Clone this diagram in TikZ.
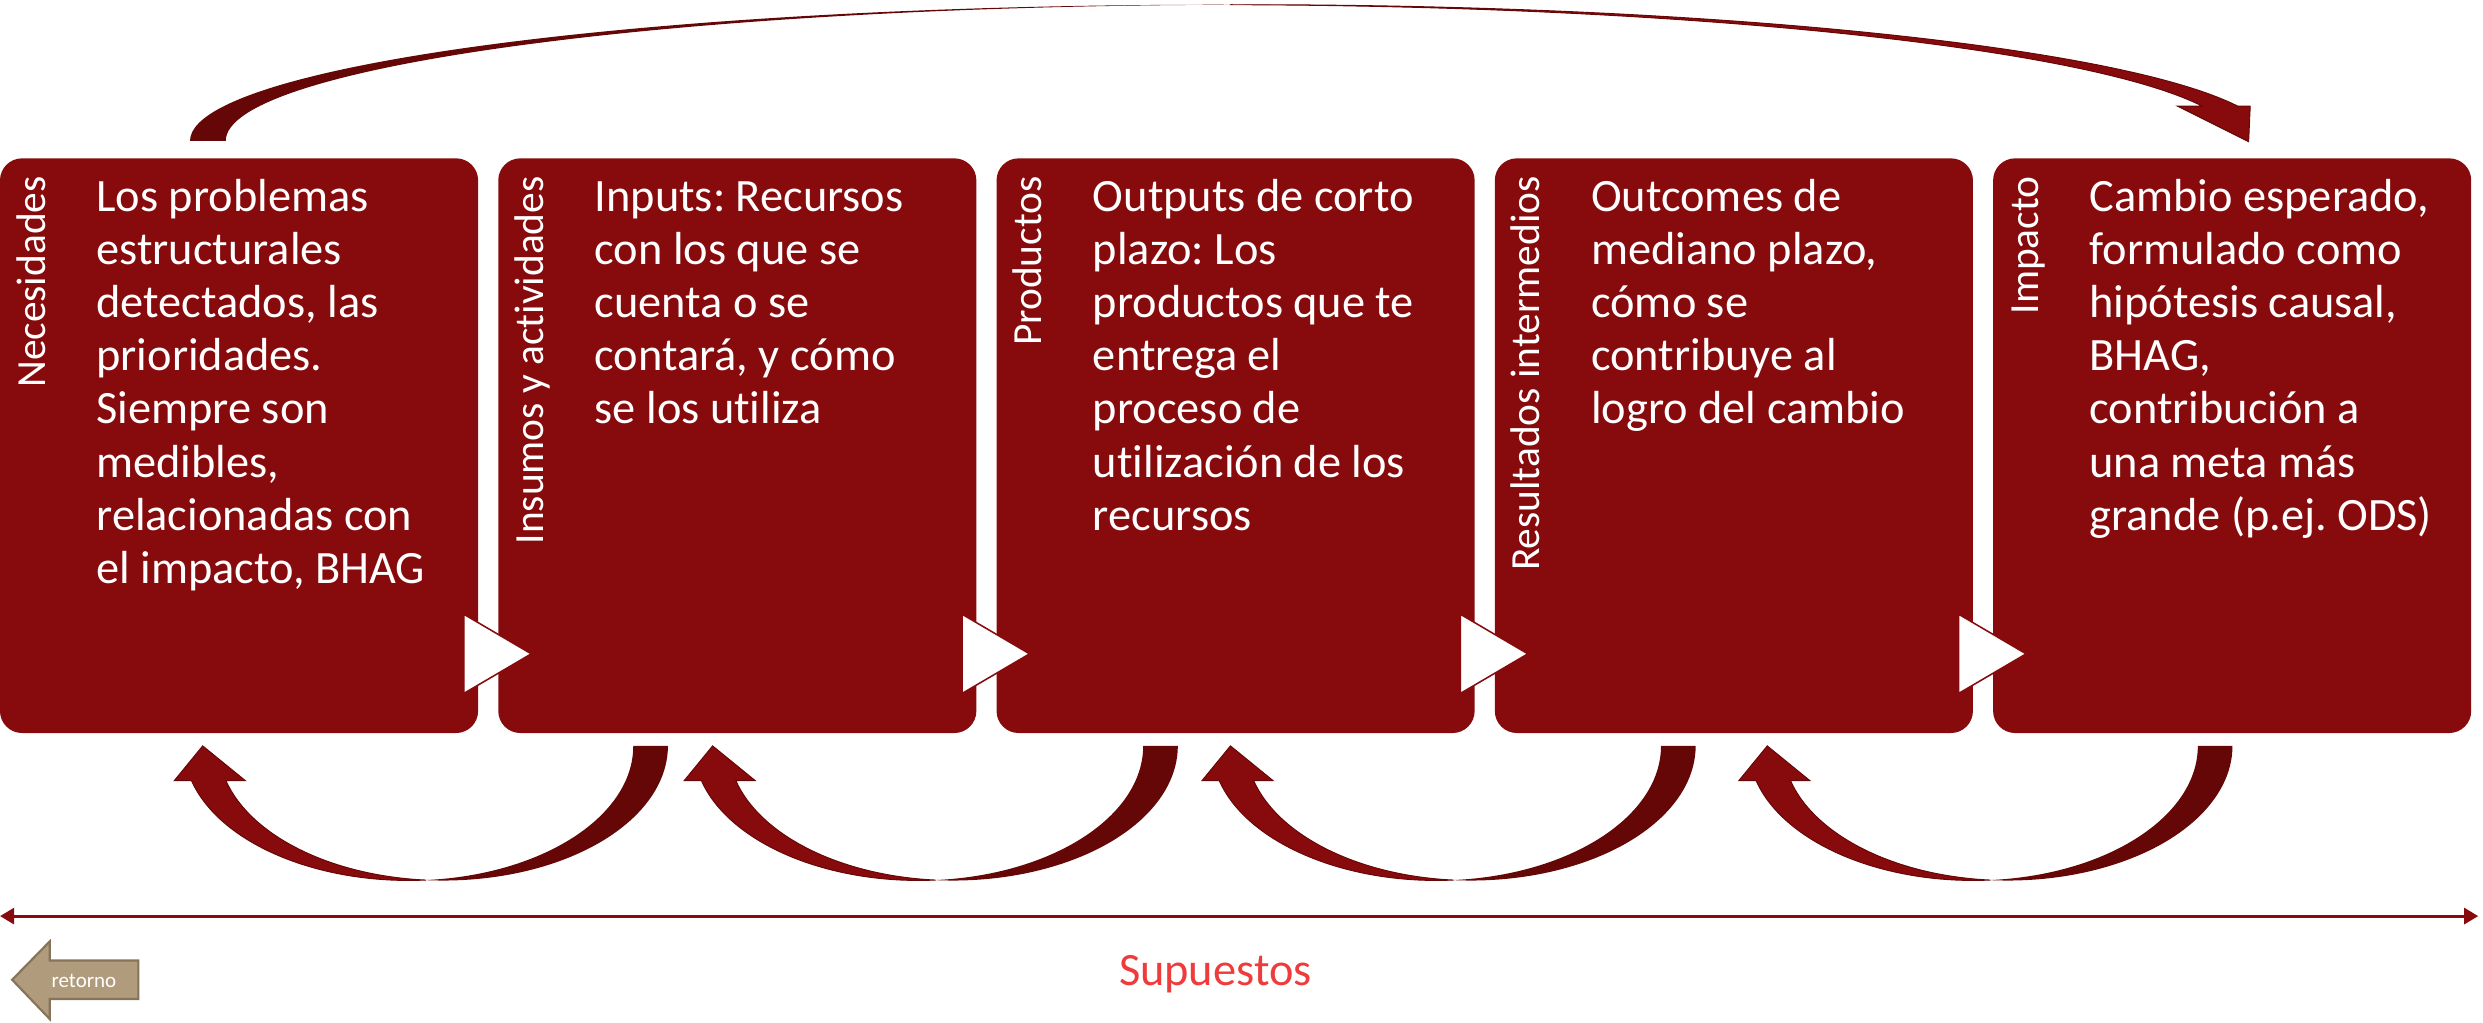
\documentclass[tikz,border=0pt]{standalone}
\usepackage{fontspec}
\setmainfont[Ligatures=NoCommon]{Carlito}
\usetikzlibrary{arrows.meta}
\definecolor{vino}{HTML}{870A0C}
\definecolor{vinoosc}{HTML}{650707}
\definecolor{rojosup}{HTML}{EE3B3B}
\definecolor{arena}{HTML}{B09C7C}
\definecolor{arenaosc}{HTML}{85745A}
\frenchspacing
\begin{document}
\begin{tikzpicture}[x=0.018cm,y=0.018cm,ampersand replacement=\&,
  etapa/.style={fill=vino,rounded corners=0.25cm,minimum width=5.436cm,minimum height=6.534cm,inner sep=0pt,outer sep=0pt},
  cuerpo/.style={text=white,align=left,anchor=north west,inner sep=0pt,font=\fontsize{15pt}{17.2pt}\selectfont},
  rotulo/.style={text=white,rotate=90,anchor=base east,inner sep=0pt,font=\fontsize{13.4pt}{16pt}\selectfont},
  claro/.style={fill=vino,draw=vinoosc,line width=0.3pt},
  oscuro/.style={fill=vinoosc},
  triangulo/.style={fill=white,draw=vino,line width=0.5pt}]
\useasboundingbox (0,0) rectangle (1568,646);
\matrix[column sep=0.2295cm,inner sep=0pt,outer sep=0pt,anchor=north west] at (0,546)
{
  \node[etapa](nec){}; \& \node[etapa](ins){}; \& \node[etapa](pro){}; \& \node[etapa](res){}; \& \node[etapa](imp){}; \\
};
\foreach \n/\t in {nec/Necesidades,ins/Insumos y actividades,pro/Productos,res/Resultados intermedios,imp/Impacto}
  \node[rotulo] (\n-rot) at ([shift={(28.5,-11)}]\n.north west) {\t};
\node[cuerpo] (nec-txt) at ([shift={(60.5,-9.5)}]nec.north west) {\strut Los problemas\\estructurales\\detectados, las\\prioridades.\\Siempre son\\medibles,\\relacionadas con\\el impacto, BHAG};
\node[cuerpo] (ins-txt) at ([shift={(60.5,-9.5)}]ins.north west) {\strut Inputs: Recursos\\con los que se\\cuenta o se\\contará, y cómo\\se los utiliza};
\node[cuerpo] (pro-txt) at ([shift={(60.5,-9.5)}]pro.north west) {\strut Outputs de corto\\plazo: Los\\productos que te\\entrega el\\proceso de\\utilización de los\\recursos};
\node[cuerpo] (res-txt) at ([shift={(60.5,-9.5)}]res.north west) {\strut Outcomes de\\mediano plazo,\\cómo se\\contribuye al\\logro del cambio};
\node[cuerpo] (imp-txt) at ([shift={(60.5,-9.5)}]imp.north west) {\strut Cambio esperado,\\formulado como\\hipótesis causal,\\BHAG,\\contribución a\\una meta más\\grande (p.ej. ODS)};
\foreach \n in {nec,ins,pro,res}
  \draw[triangulo] ([shift={(-9,25)}]\n.south east) -- ([shift={(-9,75)}]\n.south east) -- ([shift={(33.6,50)}]\n.south east) -- cycle;
\foreach \c in {258,580,907,1246}
{
  \begin{scope}[shift={(\c,175)}]
    \fill[oscuro] (11,-84.8) arc[start angle=265.6,end angle=360,x radius=141.9,y radius=85] -- (141.9,0) arc[start angle=0,end angle=-85.6,x radius=141.9,y radius=85] -- cycle;
    \filldraw[claro] (195:141.9 and 85) arc[start angle=195,end angle=274.4,x radius=141.9,y radius=85] arc[start angle=265.6,end angle=195,x radius=141.9,y radius=85] -- (-103,-22) -- (-130,0) -- (-148,-22) -- cycle;
  \end{scope}
}
\fill[oscuro] (120,557) arc[start angle=180,end angle=89,x radius=646,y radius=86] arc[start angle=91,end angle=180,x radius=646,y radius=86] -- cycle;
\filldraw[claro] (777.3,643) arc[start angle=91,end angle=14.8,x radius=646,y radius=86] -- (1421,579) -- (1420,556.5) -- (1375,579) -- (1390.6,579) arc[start angle=14.8,end angle=89,x radius=646,y radius=86] -- cycle;
\coordinate (sup-izq) at (0,67.5);
\coordinate (sup-der) at (1565,67.5);
\draw[vino,line width=1pt,{Triangle[length=0.16cm,width=0.18cm]}-{Triangle[length=0.16cm,width=0.18cm]}] (sup-izq) -- (sup-der);
\node[text=rojosup,font=\fontsize{15pt}{18pt}\selectfont,anchor=base] (sup) at (767.5,23.5) {Supuestos};
\filldraw[fill=arena,draw=arenaosc,line width=0.7pt] (87.4,39.5) -- (31.4,39.5) -- (31.4,51.5) -- (7.7,27.3) -- (31.4,2.5) -- (31.4,15.1) -- (87.4,15.1) -- cycle;
\node[text=white,font=\fontsize{6.8pt}{8pt}\selectfont] (ret) at (53,26.3) {retorno};
\end{tikzpicture}
\end{document}
